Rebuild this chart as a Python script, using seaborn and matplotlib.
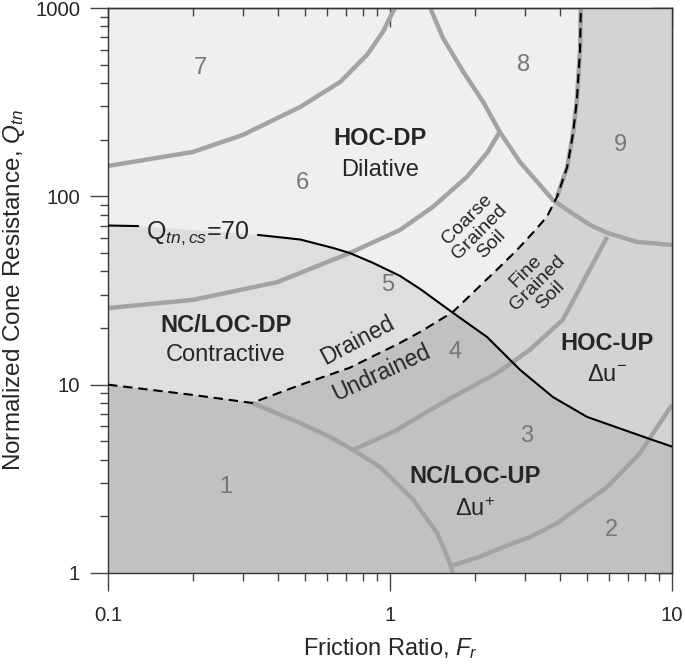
import numpy as np
import matplotlib
matplotlib.use('Agg')
import matplotlib.pyplot as plt
import seaborn as sns
from matplotlib.ticker import FuncFormatter, NullFormatter

# boundary lines (Fr in %, Qtn)
qcs_fr = [0.1, 0.128, 0.34, 0.48, 0.628, 0.72, 0.871, 1.085, 1.28, 1.67, 2.21, 2.89, 3.78, 5.0, 8.15, 10]
qcs_q = [70, 69.5, 62.4, 59.0, 53.2, 50, 44.3, 37.8, 32.2, 24.1, 17.9, 12.0, 8.6, 6.74, 5.21, 4.69]

dash_fr = [0.1, 0.2, 0.324, 0.48, 0.72, 1.08, 1.28, 1.67, 2.45, 2.82, 3.21, 3.60, 3.91, 4.25, 4.46, 4.60, 4.72, 4.75]
dash_q = [10, 8.82, 8.0, 9.96, 12.3, 16.6, 19.05, 24.3, 42.2, 51.9, 64, 77.8, 99.3, 143, 217, 325, 599, 1000]

z76_fr = [0.1, 0.2, 0.301, 0.48, 0.666, 0.829, 0.944, 1.04]
z76_q = [145, 172, 212, 298, 405, 564, 747, 1000]

z65_fr = [0.1, 0.2, 0.398, 0.72, 1.085, 1.42, 1.875, 2.21, 2.45]
z65_q = [25.5, 28.2, 35, 50, 66.3, 87.9, 127, 170, 220]

z8_fr = [1.39, 1.54, 1.82, 2.14, 2.45, 2.89, 3.40, 3.78, 4.25, 5.12, 5.89, 7.51, 10]
z8_q = [1000, 694, 458, 317, 220, 152, 115, 95.7, 84.7, 70.5, 64, 57.3, 55.2]

z4_fr = [5.89, 4.88, 4.10, 3.13, 2.39, 1.67, 1.388, 1.059, 0.74]
z4_q = [60.9, 36, 22.1, 15.3, 11.5, 8.6, 7.34, 5.75, 4.5]

z13_fr = [0.324, 0.48, 0.612, 0.74, 0.921, 1.21, 1.47, 1.63, 1.67]
z13_q = [8.0, 6.26, 5.28, 4.5, 3.66, 2.44, 1.63, 1.13, 1.0]

z23_fr = [1.67, 2.08, 2.73, 3.13, 3.91, 5.89, 7.71, 9.06, 10]
z23_q = [1.10, 1.22, 1.44, 1.55, 1.84, 2.86, 4.34, 6.26, 7.8]

zone_names = ['1', '2', '3', '4', '5', '6', '7', '8', '9']
zone_fr = [0.262, 6.08, 3.06, 1.70, 0.984, 0.488, 0.212, 2.97, 6.55]
zone_q = [2.86, 1.69, 5.34, 14.9, 33.8, 118, 481, 499, 187]

region_titles = ['HOC-DP', 'NC/LOC-DP', 'HOC-UP', 'NC/LOC-UP']
region_notes = ['Dilative', 'Contractive', r'$\Delta$u$^{-}$', r'$\Delta$u$^{+}$']
title_fr = [0.921, 0.262, 5.89, 2.0]
title_q = [204, 20.5, 16.6, 3.24]
note_q = [138, 14.4, 11.3, 2.16]

sns.set_style('ticks')
plt.rcParams['font.family'] = ['Liberation Sans', 'DejaVu Sans']
plt.rcParams['mathtext.fontset'] = 'custom'
plt.rcParams['mathtext.rm'] = 'Liberation Sans'
plt.rcParams['mathtext.it'] = 'Liberation Sans:italic'
plt.rcParams['mathtext.bf'] = 'Liberation Sans:bold'

fig = plt.figure(figsize=(6.85, 6.65), dpi=100)
ax = fig.add_axes([108/685, 92/665, 564/685, 565/665])
ax.set_xscale('log')
ax.set_yscale('log')
ax.set_xlim(0.1, 10)
ax.set_ylim(1, 1000)
ax.set_facecolor('#efefef')

c_contr = '#dedede'
c_hocup = '#d3d3d3'
c_dark = '#c1c1c1'
c_line = '#a3a3a3'

# shaded behaviour regions
ax.fill(dash_fr + [10, 10, 0.1], dash_q + [1000, 1, 1], color=c_hocup, lw=0, zorder=1)
below = ax.fill(qcs_fr + [10, 0.1], qcs_q + [1, 1], color=c_contr, lw=0, zorder=1.1)[0]
dark = ax.fill(dash_fr + [10, 10, 0.1], dash_q + [1000, 1, 1], color=c_dark, lw=0, zorder=1.2)[0]
dark.set_clip_path(below)

# zone boundaries
for xs, ys in [(z76_fr, z76_q), (z65_fr, z65_q), (z8_fr, z8_q), (z4_fr, z4_q),
               (z13_fr, z13_q), (z23_fr, z23_q), (dash_fr[12:], dash_q[12:])]:
    sns.lineplot(x=xs, y=ys, sort=False, estimator=None, color=c_line, lw=3.2,
                 ax=ax, zorder=2, solid_capstyle='butt')

sns.lineplot(x=dash_fr, y=dash_q, sort=False, estimator=None, color='black', lw=1.5,
             ax=ax, zorder=3, dashes=False, linestyle=(0, (4.5, 2.8)))
sns.lineplot(x=qcs_fr[:2], y=qcs_q[:2], sort=False, estimator=None, color='black', lw=1.5, ax=ax, zorder=3)
sns.lineplot(x=qcs_fr[2:], y=qcs_q[2:], sort=False, estimator=None, color='black', lw=1.5, ax=ax, zorder=3)
ax.text(0.209, 64, r'Q$_{\mathit{tn,cs}}$=70', fontsize=18, ha='center', va='center', zorder=4)

for name, fx, qy in zip(zone_names, zone_fr, zone_q):
    ax.text(fx, qy, name, fontsize=17, color='#777777', ha='center', va='center', zorder=4)

for t, n, fx, qt, qn in zip(region_titles, region_notes, title_fr, title_q, note_q):
    ax.text(fx, qt, t, fontsize=17, fontweight='bold', ha='center', va='center', zorder=4)
    ax.text(fx, qn, n, fontsize=17, ha='center', va='center', zorder=4)

ax.text(0.764, 17.1, 'Drained', fontsize=16.5, rotation=28, ha='center', va='center', zorder=4)
ax.text(0.929, 11.6, 'Undrained', fontsize=16.5, rotation=25, ha='center', va='center', zorder=4)
ax.text(2.08, 64.7, 'Coarse\nGrained\nSoil', fontsize=14, rotation=45, ha='center', va='center',
        linespacing=1.0, zorder=4)
ax.text(3.35, 34.7, 'Fine\nGrained\nSoil', fontsize=14, rotation=45, ha='center', va='center',
        linespacing=1.0, zorder=4)

# axes, ticks
fmt = FuncFormatter(lambda v, p: '%g' % v)
ax.xaxis.set_major_formatter(fmt)
ax.yaxis.set_major_formatter(fmt)
ax.xaxis.set_minor_formatter(NullFormatter())
ax.yaxis.set_minor_formatter(NullFormatter())
ax.tick_params(which='major', direction='out', length=13, width=1, color='#444444', labelsize=14.6)
ax.tick_params(which='minor', direction='out', length=6, width=1, color='#444444')
ax.tick_params(axis='x', which='major', pad=11)
ax.tick_params(axis='y', which='major', pad=7)

top = ax.secondary_xaxis('top')
right = ax.secondary_yaxis('right')
for sec in (top, right):
    sec.tick_params(which='major', direction='in', length=14, width=1, color='#444444')
    sec.tick_params(which='minor', direction='in', length=5.5, width=1, color='#444444')
top.xaxis.set_major_formatter(NullFormatter())
top.xaxis.set_minor_formatter(NullFormatter())
right.yaxis.set_major_formatter(NullFormatter())
right.yaxis.set_minor_formatter(NullFormatter())

for sp in list(ax.spines.values()) + [top.spines['top'], right.spines['right']]:
    sp.set_color('#333333')
    sp.set_linewidth(1)

ax.set_xlabel('Friction Ratio, $F_r$', fontsize=17, labelpad=8)
ax.set_ylabel('Normalized Cone Resistance, $Q_{tn}$', fontsize=17.5, labelpad=6)

fig.savefig('out.png', dpi=100, facecolor='white')
